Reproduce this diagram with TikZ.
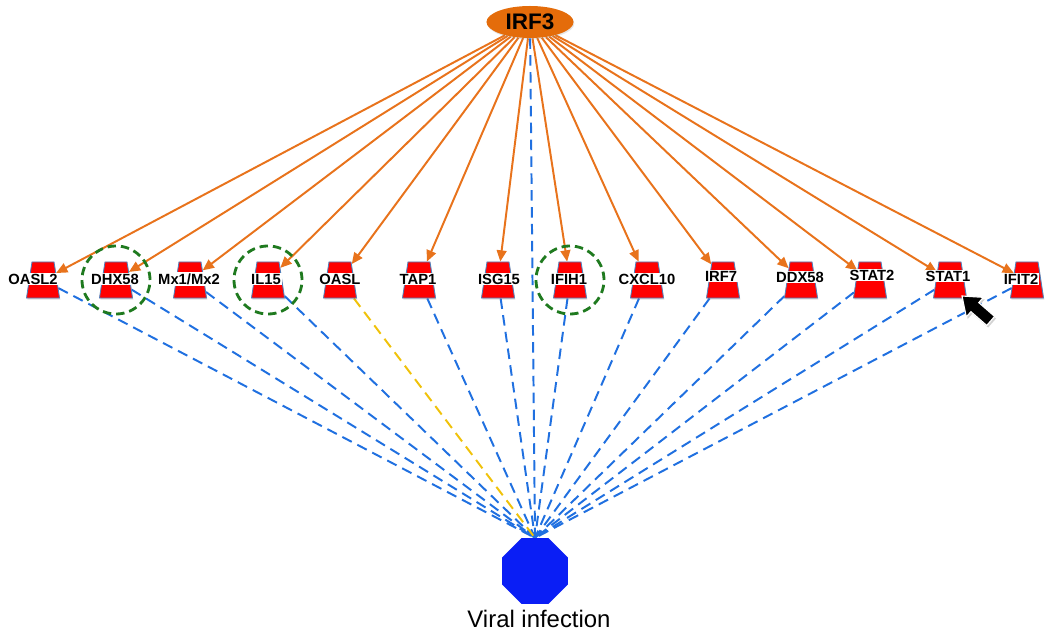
\documentclass[tikz,border=0pt]{standalone}
\usepackage{fontspec}
\setmainfont{Liberation Sans}
\usetikzlibrary{shapes.geometric,arrows.meta,shadows,backgrounds}
\definecolor{irforange}{HTML}{E46C0A}
\definecolor{arroworange}{HTML}{E8731C}
\definecolor{linkblue}{HTML}{2070E0}
\definecolor{linkyellow}{HTML}{F0C20A}
\definecolor{genered}{HTML}{FF0000}
\definecolor{geneedge}{HTML}{4F81BD}
\definecolor{virusblue}{HTML}{0A1EF5}
\definecolor{ringgreen}{HTML}{1F7A1F}
\begin{document}
\begin{tikzpicture}[x=0.025cm,y=-0.025cm,
  gene/.style={trapezium,trapezium left angle=76,trapezium right angle=76,
    trapezium stretches=true,minimum width=0.825cm,minimum height=0.9cm,
    inner sep=1pt,fill=genered,draw=geneedge,line width=0.6pt,
    drop shadow={opacity=0.25,shadow xshift=0.6pt,shadow yshift=-1.2pt}},
  genelabel/.style={fill=white,inner sep=0.8pt,text=black,
    font=\bfseries\fontsize{10.5}{12}\selectfont},
  ring/.style={circle,minimum size=1.7cm,draw=ringgreen,line width=2pt,
    dash pattern=on 6pt off 3.5pt},
  activates/.style={-{Triangle[length=8pt,width=7pt]},arroworange,line width=1.4pt},
  link/.style={linkblue,line width=1.4pt,dash pattern=on 7.5pt off 4.5pt}]
\useasboundingbox (0,0) rectangle (1047,636);
% regulator
\node[ellipse,fill=irforange,minimum width=2.175cm,minimum height=0.8cm,inner sep=0pt,
  font=\bfseries\fontsize{16}{19}\selectfont,
  drop shadow={opacity=0.2,shadow xshift=0.6pt,shadow yshift=-1pt}] (irf3) at (530,22) {IRF3};
% target genes
\node[gene] (oasl2) at (43,280) {};
\node[gene] (dhx58) at (116,280) {};
\node[gene] (mx) at (190,280) {};
\node[gene] (il15) at (268,280) {};
\node[gene] (oasl) at (340,280) {};
\node[gene] (tap1) at (419,280) {};
\node[gene] (isg15) at (498,280) {};
\node[gene] (ifih1) at (570,280) {};
\node[gene] (cxcl10) at (647,280) {};
\node[gene] (irf7) at (723,280) {};
\node[gene] (ddx58) at (801,280) {};
\node[gene] (stat2) at (870,280) {};
\node[gene] (stat1) at (950,280) {};
\node[gene] (ifit2) at (1027,280) {};
% gene names
\node[genelabel] (oasl2name) at (33,279) {OASL2};
\node[genelabel] (dhx58name) at (115,279) {DHX58};
\node[genelabel] (mxname) at (189,279) {Mx1/Mx2};
\node[genelabel] (il15name) at (266,279) {IL15};
\node[genelabel] (oaslname) at (340,279) {OASL};
\node[genelabel] (tap1name) at (418,279) {TAP1};
\node[genelabel] (isg15name) at (499,279) {ISG15};
\node[genelabel] (ifih1name) at (569,279) {IFIH1};
\node[genelabel] (cxcl10name) at (647,279) {CXCL10};
\node[genelabel] (irf7name) at (721,276) {IRF7};
\node[genelabel] (ddx58name) at (800,277) {DDX58};
\node[genelabel] (stat2name) at (872,275) {STAT2};
\node[genelabel] (stat1name) at (948,276) {STAT1};
\node[genelabel] (ifit2name) at (1021,279) {IFIT2};
% disease
\node[regular polygon,regular polygon sides=8,minimum size=1.775cm,inner sep=0pt,
  fill=virusblue] (virus) at (535,571) {};
\node[font=\fontsize{17}{20}\selectfont,inner sep=0pt,anchor=north]
  (virusname) at (539,610) {Viral infection};
% highlighted genes
\node[ring] (ringdhx) at (dhx58) {};
\node[ring] (ringil) at (il15) {};
\node[ring] (ringifih) at (ifih1) {};
\begin{scope}[on background layer]
\foreach \g in {oasl2,dhx58,mx,il15,oasl,tap1,isg15,ifih1,cxcl10,irf7,ddx58,stat2,stat1,ifit2}
  \draw[activates] (irf3) -- (\g);
\foreach \g in {oasl2,dhx58,mx,il15,tap1,isg15,ifih1,cxcl10,irf7,ddx58,stat2,stat1,ifit2}
  \draw[link] (\g) -- (virus.north);
\draw[link,linkyellow] (oasl) -- (virus.north);
\draw[link] (irf3) -- (virus.north);
\end{scope}
% pointer
\fill[black,draw=white,line width=0.8pt,
  drop shadow={opacity=0.35,shadow xshift=1pt,shadow yshift=-1.5pt},
  shift={(962,296)},rotate=-41]
  (0,0) -- (17,13) -- (17,6) -- (38,6) -- (38,-6) -- (17,-6) -- (17,-13) -- cycle;
\end{tikzpicture}
\end{document}
